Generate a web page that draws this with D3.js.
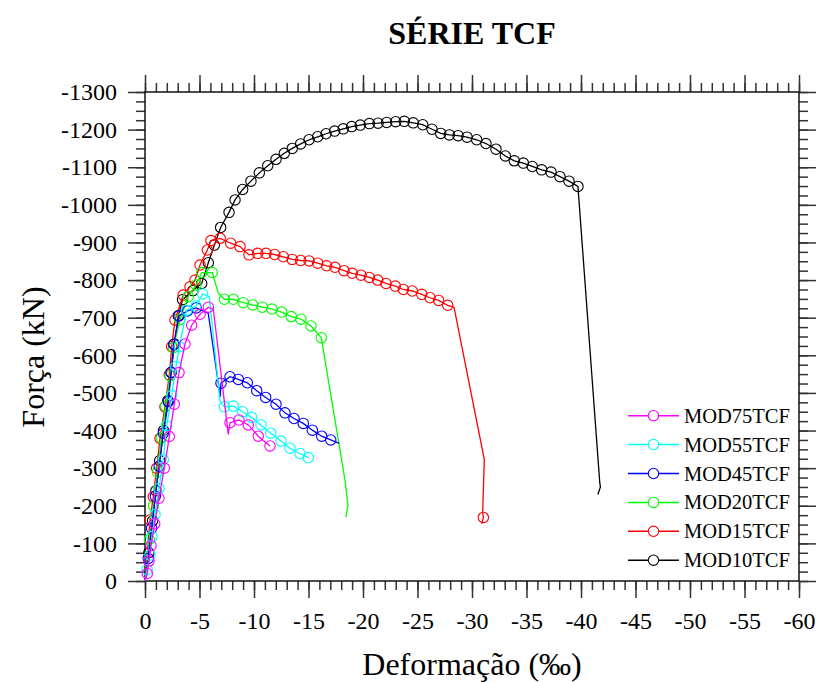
<!DOCTYPE html>
<html>
<head>
<meta charset="utf-8">
<script src="https://cdn.jsdelivr.net/npm/d3@7"></script>
</head>
<body style="margin:0">
<script>
// ---- data: [deformação (‰), força (kN), marker shown (1/0)] ----
const title = "SÉRIE TCF";
const xLabel = "Deformação (‰)";
const yLabel = "Força (kN)";
const xTicks = [0, -5, -10, -15, -20, -25, -30, -35, -40, -45, -50, -55, -60];
const yTicks = [0, -100, -200, -300, -400, -500, -600, -700, -800, -900, -1000, -1100, -1200, -1300];
const seriesNames = ["MOD75TCF", "MOD55TCF", "MOD45TCF", "MOD20TCF", "MOD15TCF", "MOD10TCF"];
const seriesColors = ["#ff00ff", "#00ffff", "#0000ff", "#00ff00", "#ff0000", "#000000"];

const mod10 = [
  [0,0,0],[-0.35,-75,1],[-0.7,-160,1],[-1.0,-240,1],[-1.35,-320,1],[-1.7,-400,1],[-2.1,-480,1],
  [-2.4,-555,1],[-2.7,-630,1],[-3.05,-705,1],[-3.45,-748,1],[-4.4,-772,1],[-5.2,-791,1],
  [-5.81,-846,1],[-6.36,-893,1],[-6.94,-940,1],
  [-7.71,-980,1],[-8.26,-1013,1],[-8.96,-1041,1],[-9.72,-1063,1],[-10.49,-1085,1],[-11.26,-1104,1],
  [-12.02,-1121,1],[-12.78,-1137,1],[-13.51,-1150,1],[-14.28,-1162,1],[-15.05,-1173,1],[-15.84,-1181,1],
  [-16.61,-1189,1],[-17.4,-1196,1],[-18.19,-1202,1],[-18.96,-1208,1],[-19.75,-1212,1],[-20.58,-1216,1],
  [-21.38,-1217,1],[-22.17,-1219,1],[-23.0,-1221,1],[-23.79,-1222,1],[-24.61,-1218,1],[-25.48,-1213,1],
  [-26.33,-1201,1],[-27.13,-1190,1],[-27.92,-1186,1],[-28.72,-1184,1],[-29.54,-1180,1],[-30.43,-1173,1],
  [-31.28,-1163,1],[-32.2,-1148,1],[-33.06,-1130,1],[-33.88,-1117,1],[-34.71,-1111,1],[-35.53,-1102,1],
  [-36.39,-1093,1],[-37.25,-1087,1],[-38.07,-1075,1],[-38.9,-1063,1],[-39.72,-1049,1],
  [-41.72,-262,0],[-41.78,-250,0],[-41.55,-230,0]
];
const mod15 = [
  [0,0,0],[-0.46,-162,1],[-0.76,-224,1],[-1.07,-300,1],[-1.38,-379,1],[-1.83,-463,1],[-2.23,-548,1],
  [-2.45,-623,1],[-2.75,-694,1],[-3.5,-760,1],[-4.13,-782,1],[-4.59,-800,1],[-5.05,-840,1],[-5.72,-880,1],
  [-6.05,-905,1],[-6.9,-911,1],[-7.86,-898,1],[-8.72,-889,1],[-9.54,-867,1],[-10.34,-871,1],[-11.1,-871,1],
  [-11.9,-868,1],[-12.69,-862,1],[-13.51,-855,1],[-14.28,-852,1],[-15.05,-851,1],[-15.84,-845,1],
  [-16.67,-838,1],[-17.43,-834,1],[-18.26,-825,1],[-19.02,-818,1],[-19.82,-813,1],[-20.58,-807,1],
  [-21.35,-800,1],[-22.11,-791,1],[-22.96,-784,1],[-23.7,-775,1],[-24.52,-771,1],[-25.39,-762,1],
  [-26.15,-753,1],[-26.94,-746,1],[-27.77,-733,1],[-28.35,-728,0],[-31.13,-323,0],[-30.98,-184,0],
  [-31.04,-169,1],[-30.89,-152,0]
];
const mod20 = [
  [0,0,0],[-0.4,-110,1],[-0.78,-200,1],[-1.15,-290,1],[-1.5,-380,1],[-1.9,-465,1],[-2.3,-545,1],
  [-2.6,-620,1],[-3.2,-695,1],[-3.97,-756,1],[-4.68,-787,1],[-5.2,-820,1],[-6.17,-820,1],
  [-6.72,-765,0],[-7.28,-749,1],[-8.1,-749,1],[-9.02,-740,1],[-9.88,-734,1],[-10.76,-728,1],
  [-11.65,-723,1],[-12.54,-715,1],[-13.42,-703,1],[-14.31,-696,1],[-15.23,-678,1],[-16.17,-647,1],
  [-18.35,-268,0],[-18.62,-202,0],[-18.44,-170,0]
];
const mod45 = [
  [0,0,0],[-0.3,-60,1],[-0.6,-140,1],[-0.95,-225,1],[-1.3,-305,1],[-1.68,-393,1],[-2.14,-477,1],
  [-2.39,-554,1],[-2.63,-629,1],[-3.12,-705,1],[-3.9,-718,1],[-4.7,-726,1],[-5.8,-712,0],
  [-6.9,-490,0],[-6.97,-526,1],[-7.8,-543,1],[-8.56,-536,1],[-9.39,-527,1],[-10.25,-506,1],
  [-11.07,-488,1],[-12.02,-470,1],[-12.84,-447,1],[-13.67,-432,1],[-14.52,-419,1],[-15.35,-401,1],
  [-16.21,-385,1],[-17.04,-375,1],[-17.83,-366,0]
];
const mod55 = [
  [0,0,0],[-0.2,-30,1],[-0.46,-69,1],[-0.64,-118,1],[-0.92,-177,1],[-1.28,-246,1],[-1.68,-323,1],
  [-1.99,-413,1],[-2.45,-493,1],[-2.84,-570,1],[-3.15,-623,1],[-3.83,-720,1],[-4.68,-731,1],
  [-5.29,-763,1],[-5.9,-756,0],[-6.88,-477,0],[-7.28,-463,1],[-8.1,-465,1],[-8.96,-450,1],
  [-9.79,-435,1],[-10.64,-415,1],[-11.53,-393,1],[-12.48,-372,1],[-13.3,-353,1],[-14.22,-339,1],
  [-14.98,-328,1]
];
const mod75 = [
  [0,0,0],[-0.21,-20,1],[-0.37,-53,1],[-0.55,-94,1],[-0.89,-152,1],[-1.28,-220,1],[-1.77,-300,1],
  [-2.23,-384,1],[-2.69,-470,1],[-3.12,-554,1],[-3.67,-630,1],[-4.28,-680,1],[-5.05,-709,1],
  [-5.81,-728,1],[-6.27,-722,0],[-7.64,-390,0],[-7.8,-421,1],[-8.62,-428,1],[-9.48,-415,1],
  [-10.39,-385,1],[-11.47,-359,1]
];
const seriesData = [mod75, mod55, mod45, mod20, mod15, mod10];

// ---- chart ----
const W = 816, H = 682;
const svg = d3.select("body").append("svg").attr("width", W).attr("height", H);

const x = d3.scaleLinear().domain([0, -60]).range([145, 799]);
const y = d3.scaleLinear().domain([0, -1300]).range([581, 92]);

const xMinor = d3.range(0, -61, -1);
const yMinor = d3.range(0, -1301, -25);

function styleAxis(g) {
  g.select(".domain").remove();
  g.selectAll("line").attr("stroke", "#333").attr("stroke-width", 1.5);
}
function txt(sel, size) {
  return sel.style("font-family", '"Liberation Serif"').style("font-size", size + "px").attr("fill", "#000");
}

// minor ticks
svg.append("g").attr("transform", `translate(0,${y(0)})`)
  .call(d3.axisBottom(x).tickValues(xMinor).tickSize(9).tickFormat("")).call(styleAxis);
svg.append("g").attr("transform", `translate(0,${y(-1300)})`)
  .call(d3.axisTop(x).tickValues(xMinor).tickSize(9).tickFormat("")).call(styleAxis);
svg.append("g").attr("transform", `translate(${x(0)},0)`)
  .call(d3.axisLeft(y).tickValues(yMinor).tickSize(9).tickFormat("")).call(styleAxis);
svg.append("g").attr("transform", `translate(${x(-60)},0)`)
  .call(d3.axisRight(y).tickValues(yMinor).tickSize(9).tickFormat("")).call(styleAxis);

// major ticks
const gx = svg.append("g").attr("transform", `translate(0,${y(0)})`)
  .call(d3.axisBottom(x).tickValues(xTicks).tickSize(17).tickFormat(d => String(d))).call(styleAxis);
txt(gx.selectAll("text").attr("y", 48).attr("dy", 0), 24);
svg.append("g").attr("transform", `translate(0,${y(-1300)})`)
  .call(d3.axisTop(x).tickValues(xTicks).tickSize(17).tickFormat("")).call(styleAxis);
const gy = svg.append("g").attr("transform", `translate(${x(0)},0)`)
  .call(d3.axisLeft(y).tickValues(yTicks).tickSize(17).tickFormat(d => String(d))).call(styleAxis);
txt(gy.selectAll("text").attr("x", -28).attr("dy", 7.7), 24);
svg.append("g").attr("transform", `translate(${x(-60)},0)`)
  .call(d3.axisRight(y).tickValues(yTicks).tickSize(17).tickFormat("")).call(styleAxis);

// frame
svg.append("rect")
  .attr("x", x(0)).attr("y", y(-1300))
  .attr("width", x(-60) - x(0)).attr("height", y(0) - y(-1300))
  .attr("fill", "none").attr("stroke", "#111").attr("stroke-width", 1.5);

// series (draw black first, magenta last)
const line = d3.line().x(d => x(d[0])).y(d => y(d[1]));
[5, 4, 3, 2, 1, 0].forEach(i => {
  const g = svg.append("g");
  g.append("path").datum(seriesData[i]).attr("d", line)
    .attr("fill", "none").attr("stroke", seriesColors[i]).attr("stroke-width", 1.3);
  g.selectAll("circle").data(seriesData[i].filter(d => d[2] === 1)).join("circle")
    .attr("cx", d => x(d[0])).attr("cy", d => y(d[1])).attr("r", 5.2)
    .attr("fill", "none").attr("stroke", seriesColors[i]).attr("stroke-width", 1.1);
});

// legend
seriesNames.forEach((name, i) => {
  const ly = 415.7 + i * 28.9;
  svg.append("line").attr("x1", 628).attr("x2", 679).attr("y1", ly).attr("y2", ly)
    .attr("stroke", seriesColors[i]).attr("stroke-width", 1.5);
  svg.append("circle").attr("cx", 653.5).attr("cy", ly).attr("r", 5.2)
    .attr("fill", "#fff").attr("stroke", seriesColors[i]).attr("stroke-width", 1.1);
  txt(svg.append("text").attr("x", 684).attr("y", ly + 7), 20.5).text(name);
});

// titles
txt(svg.append("text").attr("x", 472).attr("y", 44).attr("text-anchor", "middle"), 32)
  .style("font-weight", "bold").text(title);
txt(svg.append("text").attr("x", 472).attr("y", 675).attr("text-anchor", "middle"), 32)
  .text(xLabel);
txt(svg.append("text").attr("transform", "translate(44,357) rotate(-90)").attr("text-anchor", "middle"), 32)
  .text(yLabel);
</script>
</body>
</html>
